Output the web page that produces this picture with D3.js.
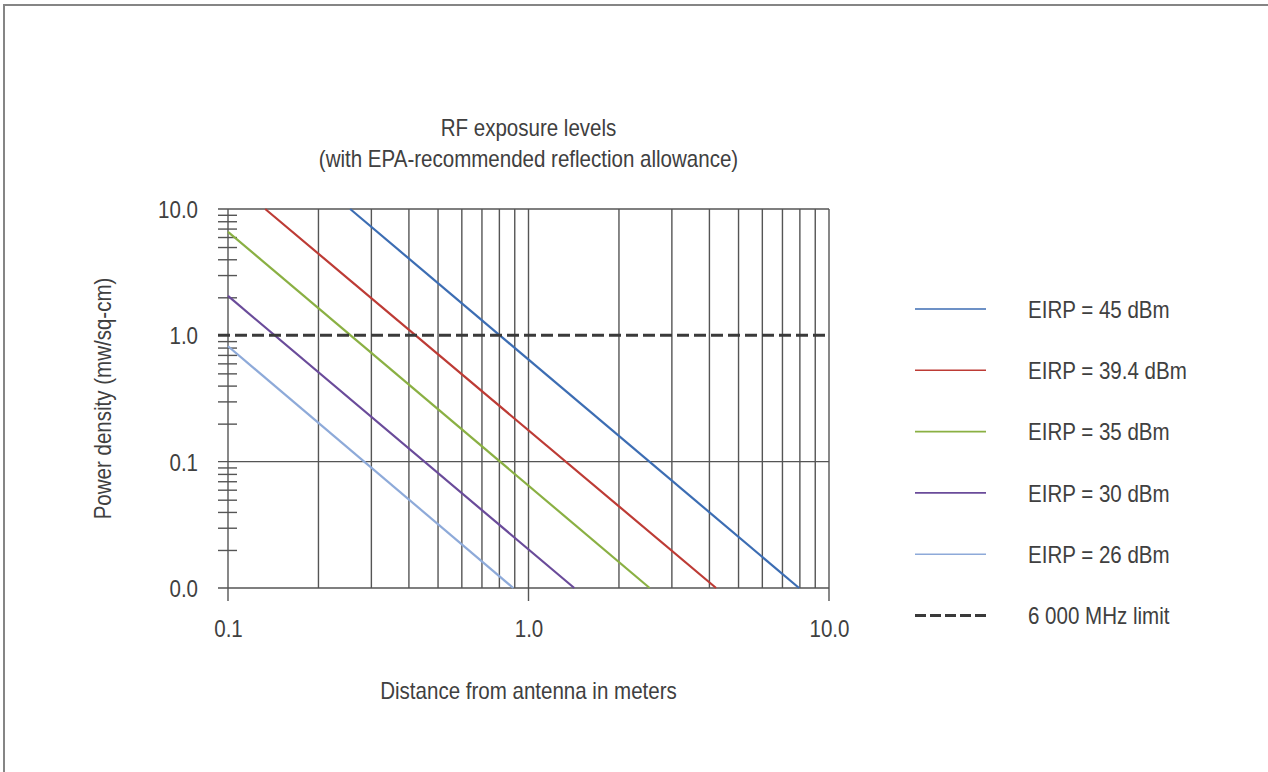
<!DOCTYPE html>
<html>
<head>
<meta charset="utf-8">
<script src="https://cdn.jsdelivr.net/npm/d3@7"></script>
<style>
    html, body { margin: 0; padding: 0; background: #fff; }
    svg text { font-family: "Liberation Sans", Arial, sans-serif; fill: #404040; }
</style>
</head>
<body>
<div id="chart"></div>
<script>
'use strict';

/* RF exposure chart: power density vs distance, log-log */

// Values (distance in m, power density in mw/sq-cm)
const seriesNames = ['EIRP = 45 dBm', 'EIRP = 39.4 dBm', 'EIRP = 35 dBm', 'EIRP = 30 dBm', 'EIRP = 26 dBm'];
const eirp45 = [[0.255, 10], [7.95, 0.01]];
const eirp394 = [[0.133, 10], [4.21, 0.01]];
const eirp35 = [[0.1, 6.6], [2.53, 0.01]];
const eirp30 = [[0.1, 2.05], [1.42, 0.01]];
const eirp26 = [[0.1, 0.82], [0.89, 0.01]];
const seriesValues = [eirp45, eirp394, eirp35, eirp30, eirp26];

const limitName = '6 000 MHz limit';
const limitLevel = 1.0;

const xTickValues = [0.1, 1, 10];
const xTickLabels = ['0.1', '1.0', '10.0'];
const yTickValues = [0.01, 0.1, 1, 10];
const yTickLabels = ['0.0', '0.1', '1.0', '10.0'];

const titleLines = ['RF exposure levels', '(with EPA-recommended reflection allowance)'];
const xTitle = 'Distance from antenna in meters';
const yTitle = 'Power density (mw/sq-cm)';

// Styles
const palette = {
    series: ['#3c6db3', '#bd3b35', '#8ab043', '#6a4b9a', '#8eaad9'],
    grid: '#555',
    limit: '#3a3a3a',
    frame: '#858585'
};
const fontSize = '24px';
const narrow = 0.855;   // the reference type is a condensed sans

// Squeeze text horizontally so it reads like a narrow face
function condense(selection){
    selection.each(function(){
        const len = this.getComputedTextLength();
        d3.select(this)
            .attr('textLength', len * narrow)
            .attr('lengthAdjust', 'spacingAndGlyphs');
    });
}

class RFExposureChart {

    width; height;
    svg;
    x; y;

    constructor(container, width, height){
        this.width = width;
        this.height = height;

        this.svg = d3.select(container).append('svg')
            .attr('width', this.width)
            .attr('height', this.height);

        // Outer frame, only top and left edges are visible
        this.svg.append('rect')
            .attr('x', 4).attr('y', 5)
            .attr('width', this.width + 20)
            .attr('height', this.height + 20)
            .attr('fill', 'none')
            .attr('stroke', palette.frame)
            .attr('stroke-width', 2);

        this.x = d3.scaleLog().domain([0.1, 10]).range([228, 829]);
        this.y = d3.scaleLog().domain([0.01, 10]).range([588, 209]);
    }

    #renderGrid(){
        const g = this.svg.append('g').classed('grid', true);
        const [x0, x1] = this.x.range();
        const [y0, y1] = this.y.range();

        // Vertical grid at every log tick (left axis drawn separately)
        g.selectAll('line.v')
            .data(this.x.ticks().filter(d => d > 0.1))
            .join('line')
            .attr('x1', d => this.x(d)).attr('x2', d => this.x(d))
            .attr('y1', y1)
            .attr('y2', d => xTickValues.includes(d) ? y0 + 13 : y0)
            .attr('stroke', palette.grid)
            .attr('stroke-width', 1.4);

        // Horizontal lines at the decades (1.0 is covered by the limit line)
        g.selectAll('line.h')
            .data(yTickValues.filter(d => d !== limitLevel))
            .join('line')
            .attr('x1', x0 - 10).attr('x2', x1)
            .attr('y1', d => this.y(d)).attr('y2', d => this.y(d))
            .attr('stroke', palette.grid)
            .attr('stroke-width', 1.4);

        // Left axis line, runs down past the bottom as the 0.1 tick
        g.append('line')
            .attr('x1', x0).attr('x2', x0)
            .attr('y1', y1).attr('y2', y0 + 13)
            .attr('stroke', palette.grid)
            .attr('stroke-width', 1.4);

        // Minor ticks crossing the y axis
        const minor = this.y.ticks().filter(d => !yTickValues.includes(d));
        const minorAxis = g.append('g')
            .attr('transform', `translate(${x0},0)`)
            .call(d3.axisLeft(this.y).tickValues(minor).tickSize(10).tickFormat(''));
        minorAxis.select('.domain').remove();
        minorAxis.selectAll('.tick line')
            .attr('x1', 9).attr('x2', -10)
            .attr('stroke', palette.grid)
            .attr('stroke-width', 1.4);
    }

    #renderAxes(){
        const [x0] = this.x.range();
        const [y0] = this.y.range();

        const yAxis = this.svg.append('g')
            .attr('transform', `translate(${x0 - 10},0)`)
            .call(d3.axisLeft(this.y)
                .tickValues(yTickValues)
                .tickSize(0).tickPadding(20)
                .tickFormat((d, i) => yTickLabels[i]));
        yAxis.select('.domain').remove();
        yAxis.selectAll('text')
            .attr('dy', '0.36em')
            .style('font-size', fontSize)
            .style('font-family', null)
            .call(condense);

        const xAxis = this.svg.append('g')
            .attr('transform', `translate(0,${y0})`)
            .call(d3.axisBottom(this.x)
                .tickValues(xTickValues)
                .tickSize(0).tickPadding(40)
                .tickFormat((d, i) => xTickLabels[i]));
        xAxis.select('.domain').remove();
        xAxis.selectAll('text')
            .attr('dy', '0.36em')
            .style('font-size', fontSize)
            .style('font-family', null)
            .call(condense);
    }

    #renderLines(){
        const line = d3.line()
            .x(d => this.x(d[0]))
            .y(d => this.y(d[1]));

        this.svg.append('g').selectAll('path')
            .data(seriesValues)
            .join('path')
            .attr('d', line)
            .attr('fill', 'none')
            .attr('stroke', (d, i) => palette.series[i])
            .attr('stroke-width', 2.2);

        // Exposure limit
        const [x0, x1] = this.x.range();
        this.svg.append('line')
            .attr('x1', x0 - 10).attr('x2', x1)
            .attr('y1', this.y(limitLevel)).attr('y2', this.y(limitLevel))
            .attr('stroke', palette.limit)
            .attr('stroke-width', 3)
            .attr('stroke-dasharray', '12,5');
    }

    #renderText(){
        const cx = d3.mean(this.x.range());
        const cy = d3.mean(this.y.range());

        this.svg.append('g').selectAll('text')
            .data(titleLines)
            .join('text')
            .attr('x', cx)
            .attr('y', (d, i) => 136 + i * 31)
            .attr('text-anchor', 'middle')
            .style('font-size', fontSize)
            .text(d => d)
            .call(condense);

        this.svg.append('text')
            .attr('x', cx).attr('y', 699)
            .attr('text-anchor', 'middle')
            .style('font-size', fontSize)
            .text(xTitle)
            .call(condense);

        this.svg.append('text')
            .attr('transform', `translate(111,${cy}) rotate(-90)`)
            .attr('text-anchor', 'middle')
            .style('font-size', fontSize)
            .text(yTitle)
            .call(condense);
    }

    #renderLegend(){
        const items = seriesNames.map((name, i) => ({ name, color: palette.series[i], dash: null }))
            .concat([{ name: limitName, color: palette.limit, dash: '11,4' }]);

        const rows = this.svg.append('g').classed('legend', true)
            .selectAll('g')
            .data(items)
            .join('g')
            .attr('transform', (d, i) => `translate(915,${309 + i * 61.3})`);

        rows.append('line')
            .attr('x1', 0).attr('x2', 71)
            .attr('stroke', d => d.color)
            .attr('stroke-width', d => d.dash ? 3 : 1.6)
            .attr('stroke-dasharray', d => d.dash);

        rows.append('text')
            .attr('x', 113)
            .attr('dy', '0.36em')
            .style('font-size', fontSize)
            .text(d => d.name)
            .call(condense);
    }

    render(){
        this.#renderGrid();
        this.#renderLines();
        this.#renderAxes();
        this.#renderText();
        this.#renderLegend();
        return this;
    }
}

new RFExposureChart('#chart', 1268, 772).render();
</script>
</body>
</html>
